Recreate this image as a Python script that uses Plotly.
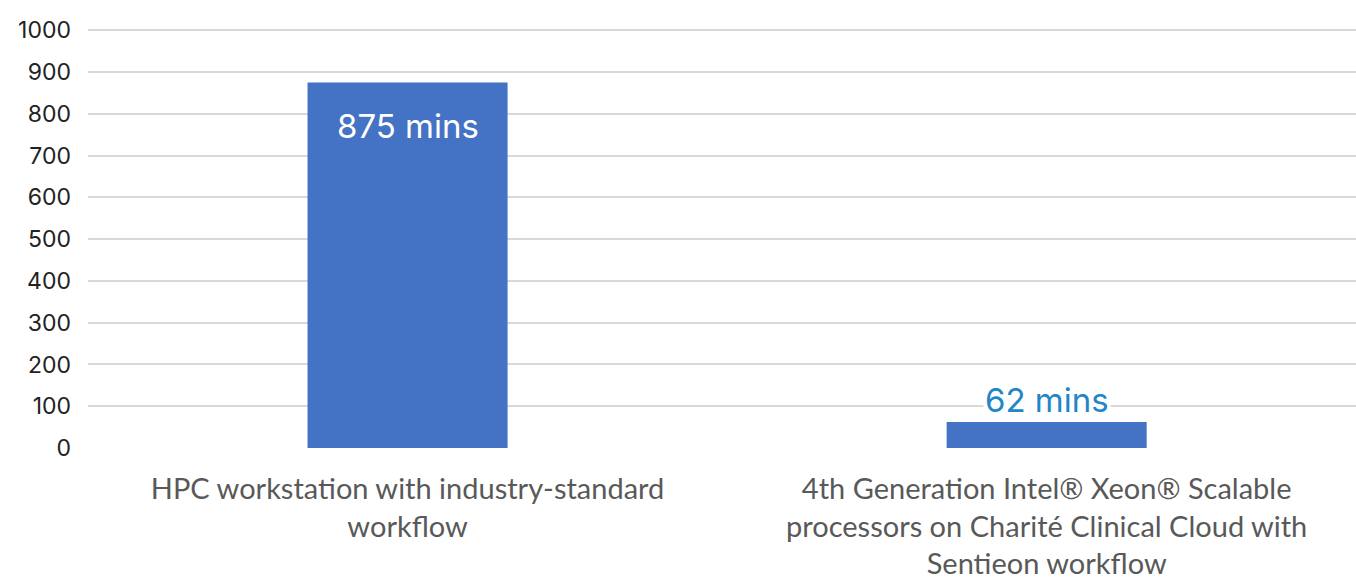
import plotly.graph_objects as go

categories = ["HPC workstation with industry-standard<br>workflow",
              "4th Generation Intel® Xeon® Scalable<br>processors on Charité Clinical Cloud with<br>Sentieon workflow"]
values = [875, 62]
labels = ["875 mins", "62 mins"]
yticks = [0, 100, 200, 300, 400, 500, 600, 700, 800, 900, 1000]

xpos = list(range(len(values)))

fig = go.Figure()
fig.add_trace(go.Bar(x=xpos, y=values, width=0.313, marker=dict(color="#4472C4", line=dict(width=0)),
                     hoverinfo="skip"))

fig.add_annotation(x=xpos[0], y=values[0], text=labels[0], showarrow=False, yanchor="top", yshift=-22,
                   font=dict(family="Inter", size=33, color="white"))
fig.add_annotation(x=xpos[1], y=values[1], text=labels[1], showarrow=False, yanchor="bottom", yshift=0,
                   bgcolor="white", borderpad=1,
                   font=dict(family="Inter", size=33, color="#1F86C8"))

fig.update_layout(
    width=1356, height=580,
    margin=dict(l=88, r=0, t=29, b=132, autoexpand=False),
    plot_bgcolor="white", paper_bgcolor="white",
    showlegend=False,
    xaxis=dict(range=[-0.5, 1.484], tickvals=xpos, ticktext=categories, showgrid=False, zeroline=False,
               showline=False, ticks="", ticklabelstandoff=21, automargin=False,
               tickfont=dict(family="Lato", size=29, color="#595959")),
    yaxis=dict(range=[0, 1003], tickvals=yticks, showgrid=True, gridcolor="#D9D9D9", gridwidth=2,
               zeroline=False, showline=False, ticks="", ticklabelstandoff=16, automargin=False,
               tickfont=dict(family="Inter", size=23, color="#222222")),
)

fig.write_html("out.html")
